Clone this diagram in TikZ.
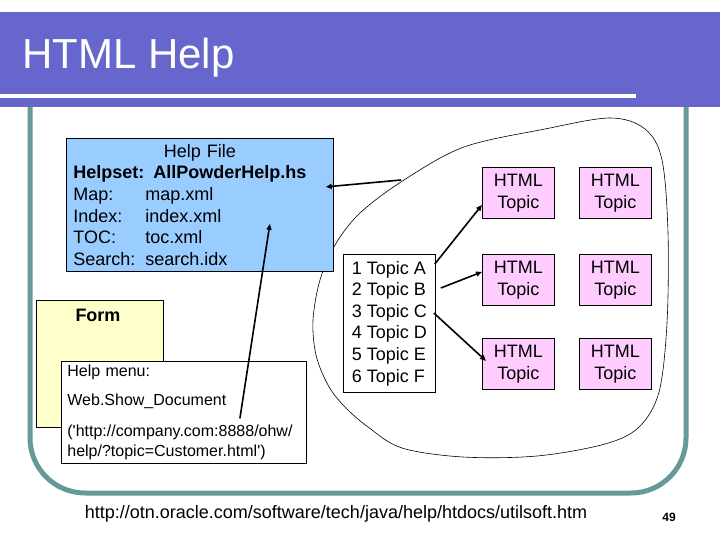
\documentclass[tikz,border=0pt]{standalone}
\usepackage{fontspec}
\setmainfont{Liberation Sans}
\usetikzlibrary{arrows.meta}
\definecolor{barblue}{RGB}{102,102,204}
\definecolor{frameteal}{RGB}{102,153,153}
\definecolor{helpblue}{RGB}{153,204,255}
\definecolor{formyellow}{RGB}{255,255,204}
\definecolor{topicpink}{RGB}{255,204,255}

\begin{document}
\begin{tikzpicture}[x=1bp, y=-1bp,
  box/.style={draw, line width=0.8bp, inner sep=0pt, anchor=north west},
  topic/.style={box, fill=topicpink, minimum width=72bp, minimum height=51bp, align=center, font=\fontsize{18bp}{22bp}\selectfont},
  body/.style={font=\fontsize{18bp}{21.6bp}\selectfont},
  link/.style={-{Triangle[length=6bp, width=5bp]}, line width=1.6bp},
]
\useasboundingbox (0,0) rectangle (720,540);

% Title bar
\fill[barblue] (0,12) rectangle (720,107);
\draw[white, line width=4bp] (0,96) -- (636,96);
\node[anchor=base west, inner sep=0pt, text=white, font=\fontsize{42bp}{50bp}\selectfont] (title) at (22,69) {HTML Help};

% Slide frame
\draw[frameteal, line width=5bp, rounded corners=55bp] (30,107) -- (30,493) -- (686,493) -- (686,107);

% Outline round the topics
\draw[line width=0.6bp] plot[smooth cycle, tension=0.55] coordinates {
  (404,180) (464,147) (545,129) (610,118) (645,129) (662,160) (668,233) (667,323)
  (659,392) (639,427) (605,444) (537,456) (463,457) (402,448) (368,427) (344,406)
  (328,385) (316,355) (313,320) (320,280) (335,245) (360,213)};

% Help file
\node[box, body, fill=helpblue, text width=253bp, inner xsep=7bp, minimum height=133bp, align=left] (helpfile) at (66,138)
  {\makebox[\linewidth]{Help File}\\
   \textbf{Helpset: AllPowderHelp.hs}\\
   \makebox[72bp][l]{Map:}map.xml\\
   \makebox[72bp][l]{Index:}index.xml\\
   \makebox[72bp][l]{TOC:}toc.xml\\
   \makebox[72bp][l]{Search:}search.idx};

% Form and its help menu
\node[box, fill=formyellow, minimum width=127bp, minimum height=127bp] (form) at (36,300) {};
\node[body] (formlabel) at (98,315) {\textbf{Form}};
\node[box, fill=white, text width=233bp, inner xsep=6bp, minimum height=102bp, align=left, font=\fontsize{16bp}{20bp}\selectfont] (helpmenu) at (61,361)
  {Help menu:\\[9bp]
   Web.Show\_Document\\[11bp]
   (\textquotesingle http://company.com:8888/ohw/\\
   help/?topic=Customer.html\textquotesingle)};

% Topic list
\node[box, body, fill=white, minimum width=92bp, minimum height=138bp, inner xsep=7bp, align=left] (topiclist) at (343,254)
  {1 Topic A\\2 Topic B\\3 Topic C\\4 Topic D\\5 Topic E\\6 Topic F};

% Row 1
\node[topic] (html11) at (482,167) {HTML\\Topic};
\node[topic] (html12) at (579,167) {HTML\\Topic};
% Row 2
\node[topic] (html21) at (482,254) {HTML\\Topic};
\node[topic] (html22) at (579,254) {HTML\\Topic};
% Row 3
\node[topic] (html31) at (482,338) {HTML\\Topic};
\node[topic] (html32) at (579,338) {HTML\\Topic};

% Arrows
\coordinate (outlinetip) at (401,180);
\draw[link] (outlinetip) -- ([xshift=-8bp, yshift=18bp]helpfile.east);
\draw[link] ([xshift=56bp, yshift=-6bp]helpmenu.center) -- ([xshift=70bp, yshift=48bp]helpfile.south);
\draw[link] ([xshift=-1bp, yshift=-10bp]topiclist.north east) -- ([yshift=-12bp]html11.west);
\draw[link] ([xshift=5bp, yshift=-34bp]topiclist.north east) -- ([yshift=8bp]html21.west);
\draw[link] ([xshift=-2bp, yshift=-59bp]topiclist.north east) -- ([xshift=4bp, yshift=3bp]html31.west);

% Footer
\node[body] (source) at (336,514) {http://otn.oracle.com/software/tech/java/help/htdocs/utilsoft.htm};
\node[font=\fontsize{12bp}{14bp}\selectfont] (pagenum) at (669,517) {\textbf{49}};

\end{tikzpicture}
\end{document}
